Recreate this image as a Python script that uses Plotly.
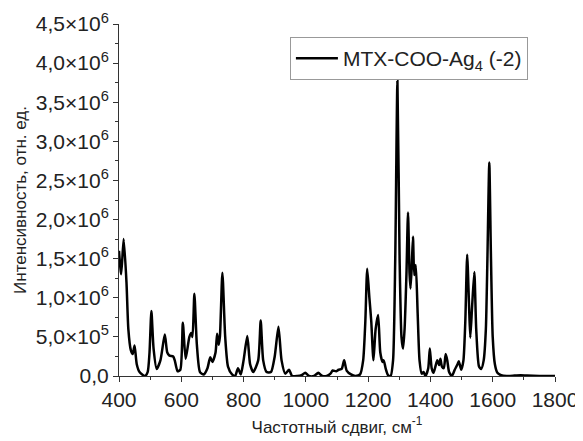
import plotly.graph_objects as go

# Raman shift (cm^-1) and intensity
shift = [400, 407, 415, 424, 430, 438, 444, 450, 457, 466, 483, 492, 498, 504, 511, 521, 533, 547,
         555, 562, 574, 579, 588, 597, 605, 614, 626, 632, 636, 642, 650, 660, 672, 684, 693, 700,
         710, 715, 720, 724, 732, 741, 750, 763, 773, 782, 791, 800, 812, 821, 831, 847, 855, 863,
         874, 888, 900, 912, 922, 934, 946, 956, 972, 986, 998, 1010, 1026, 1040, 1053, 1067, 1079,
         1086, 1097, 1105, 1115, 1123, 1131, 1145, 1159, 1174, 1184, 1191, 1197, 1204, 1210, 1217,
         1224, 1232, 1239, 1246, 1250, 1256, 1264, 1272, 1280, 1287, 1294, 1301, 1307, 1312, 1317,
         1323, 1328, 1333, 1336, 1340, 1344, 1348, 1353, 1359, 1365, 1372, 1378, 1384, 1393, 1398,
         1404, 1410, 1416, 1422, 1428, 1432, 1437, 1443, 1449, 1454, 1460, 1469, 1478, 1487, 1491,
         1499, 1506, 1512, 1518, 1524, 1528, 1534, 1541, 1547, 1556, 1563, 1571, 1578, 1583, 1589,
         1594, 1600, 1607, 1615, 1627, 1645, 1670, 1690, 1710, 1750, 1800]
intensity = [1.60e6, 1.30e6, 1.75e6, 1.20e6, 0.60e6, 0.33e6, 0.28e6, 0.39e6, 0.15e6, 0.05e6, 0.0,
             0.05e6, 0.30e6, 0.83e6, 0.35e6, 0.09e6, 0.20e6, 0.53e6, 0.30e6, 0.26e6, 0.25e6, 0.20e6,
             0.06e6, 0.08e6, 0.68e6, 0.22e6, 0.50e6, 0.55e6, 0.50e6, 1.05e6, 0.40e6, 0.05e6, 0.02e6,
             0.10e6, 0.24e6, 0.18e6, 0.30e6, 0.54e6, 0.40e6, 0.50e6, 1.32e6, 0.50e6, 0.12e6, 0.02e6,
             0.0, 0.10e6, 0.02e6, 0.20e6, 0.51e6, 0.15e6, 0.05e6, 0.20e6, 0.71e6, 0.20e6, 0.05e6,
             0.05e6, 0.25e6, 0.63e6, 0.20e6, 0.03e6, 0.08e6, 0.0, 0.0, 0.01e6, 0.04e6, 0.0, 0.0,
             0.04e6, 0.0, 0.0, 0.03e6, 0.07e6, 0.06e6, 0.08e6, 0.09e6, 0.20e6, 0.07e6, 0.02e6, 0.0,
             0.02e6, 0.20e6, 0.70e6, 1.37e6, 1.00e6, 0.70e6, 0.20e6, 0.60e6, 0.78e6, 0.30e6, 0.18e6,
             0.20e6, 0.10e6, 0.01e6, 0.0, 0.20e6, 1.50e6, 3.77e6, 1.50e6, 0.50e6, 0.35e6, 0.60e6,
             1.30e6, 2.09e6, 1.30e6, 1.12e6, 1.40e6, 1.78e6, 1.29e6, 1.42e6, 0.80e6, 0.20e6, 0.03e6,
             0.05e6, 0.0, 0.10e6, 0.35e6, 0.10e6, 0.04e6, 0.12e6, 0.20e6, 0.14e6, 0.22e6, 0.12e6,
             0.10e6, 0.28e6, 0.20e6, 0.05e6, 0.0, 0.08e6, 0.15e6, 0.19e6, 0.08e6, 0.20e6, 0.70e6,
             1.55e6, 0.90e6, 0.49e6, 0.90e6, 1.33e6, 0.60e6, 0.12e6, 0.09e6, 0.20e6, 0.60e6, 1.50e6,
             2.73e6, 1.60e6, 0.50e6, 0.15e6, 0.04e6, 0.01e6, 0.0, 0.005e6, 0.01e6, 0.005e6, 0.0, 0.0]

series_name = "MTX-COO-Ag<sub>4</sub> (-2)"
x_ticks = [400, 600, 800, 1000, 1200, 1400, 1600, 1800]
y_ticks = [0, 0.5e6, 1.0e6, 1.5e6, 2.0e6, 2.5e6, 3.0e6, 3.5e6, 4.0e6, 4.5e6]
y_tick_labels = ["0,0", "5,0×10<sup>5</sup>", "1,0×10<sup>6</sup>", "1,5×10<sup>6</sup>",
                 "2,0×10<sup>6</sup>", "2,5×10<sup>6</sup>", "3,0×10<sup>6</sup>",
                 "3,5×10<sup>6</sup>", "4,0×10<sup>6</sup>", "4,5×10<sup>6</sup>"]

FONT = "Liberation Sans, Arial, sans-serif"

fig = go.Figure()
fig.add_trace(go.Scatter(
    x=shift, y=intensity, mode="lines", name=series_name,
    line=dict(color="black", width=2.5, shape="spline", smoothing=0.6),
))

axis_common = dict(
    showline=True, linecolor="#333333", linewidth=1,
    ticks="outside", ticklen=5, tickwidth=1, tickcolor="#333333",
    showgrid=False, zeroline=False, mirror=False, automargin=False,
    ticklabeloverflow="allow",
    tickfont=dict(family=FONT, size=21, color="#222222"),
    minor=dict(ticks="outside", ticklen=3, tickwidth=1, tickcolor="#333333"),
)

fig.update_xaxes(
    range=[400, 1800], tickvals=x_ticks, ticktext=[str(v) for v in x_ticks],
    minor_dtick=100,
    title=dict(text="Частотный сдвиг, см<sup>-1</sup>", font=dict(family=FONT, size=17, color="#222222"),
               standoff=10),
    **axis_common,
)
fig.update_yaxes(
    range=[0, 4.5e6], tickvals=y_ticks, ticktext=y_tick_labels,
    minor_dtick=0.25e6,
    title=dict(text="Интенсивность, отн. ед.", font=dict(family=FONT, size=17, color="#222222"),
               standoff=4),
    **axis_common,
)

# page body has an 8px default margin, so the figure is sized 8px smaller
fig.update_layout(
    width=575, height=433,
    margin=dict(l=111, r=28, t=16, b=65),
    paper_bgcolor="white", plot_bgcolor="white",
    showlegend=True,
    legend=dict(
        x=0.392, y=0.963, xanchor="left", yanchor="top",
        bgcolor="white", bordercolor="#999999", borderwidth=1,
        font=dict(family=FONT, size=21, color="#222222"),
        itemwidth=42,
    ),
)

fig.write_html("out.html")
